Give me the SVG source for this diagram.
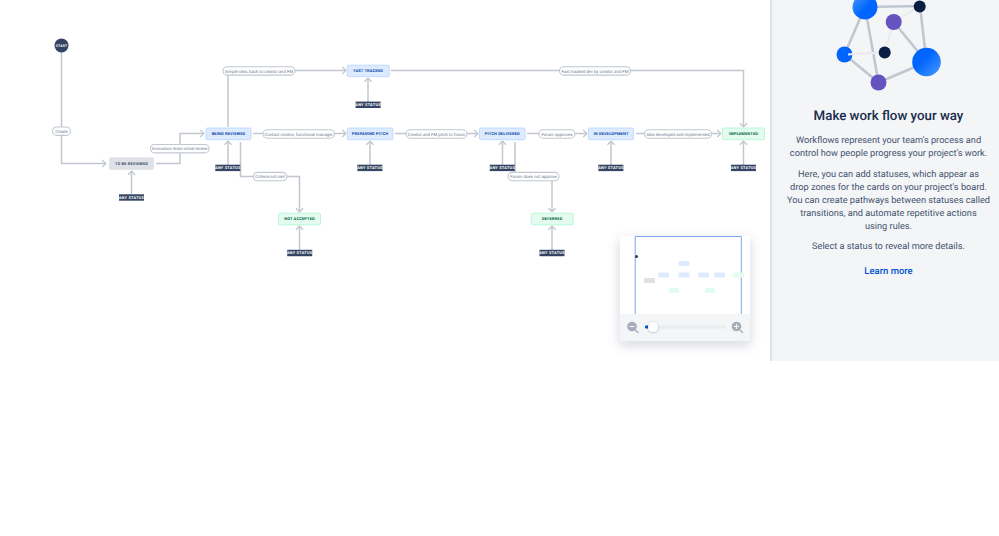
<svg xmlns="http://www.w3.org/2000/svg" width="999" height="536" viewBox="0 0 999 536">
<style>
text{font-family:Roboto,"Liberation Sans",sans-serif;text-rendering:geometricPrecision}
.c{fill:none;stroke:#c1c7d0;stroke-width:1.5}
.a{marker-end:url(#ah)}
.p{fill:#fff;stroke:#c1c7d0;stroke-width:1.1}
.pt{font-size:4.3px;fill:#6b778c;text-anchor:middle}
.n{stroke-width:.8}
.nt{font-size:4px;font-weight:700;text-anchor:middle;letter-spacing:.14px}
.b .n{fill:#deebff;stroke:#b3d4ff}.b .nt{fill:#0747a6}
.g .n{fill:#e3fcef;stroke:#abf5d1}.g .nt{fill:#006644}
.y .n{fill:#dfe1e6;stroke:#dfe1e6}.y .nt{fill:#42526e}
.s{fill:#344563}
.st{font-size:3.9px;font-weight:700;fill:#fff;text-anchor:middle;letter-spacing:.25px}
.body{font-size:9.2px;fill:#42526e;text-anchor:middle}
.e{stroke:#c1c7d0;stroke-width:2.6;stroke-linecap:round}
.m{stroke-width:0}
</style>
<defs>
<marker id="ah" markerUnits="userSpaceOnUse" markerWidth="10" markerHeight="10" refX="6.4" refY="5" orient="auto"><path d="M2.6 1.4L6.2 5L2.6 8.6" fill="none" stroke="#c1c7d0" stroke-width="1.3"/></marker>
<linearGradient id="bg" x1="0" y1="0" x2="1" y2="1"><stop offset="0" stop-color="#4c9aff"/><stop offset=".55" stop-color="#0065ff"/></linearGradient>
<linearGradient id="bg2" x1="1" y1="1" x2="0" y2="0"><stop offset="0" stop-color="#4c9aff"/><stop offset=".6" stop-color="#0065ff"/></linearGradient>
<filter id="sh" x="-20%" y="-20%" width="140%" height="150%"><feDropShadow dx="0" dy="4" stdDeviation="6" flood-color="#091e42" flood-opacity=".18"/></filter>
<filter id="ts" x="-50%" y="-50%" width="200%" height="200%"><feDropShadow dx="0" dy=".5" stdDeviation=".8" flood-color="#091e42" flood-opacity=".3"/></filter>
<clipPath id="ic"><rect x="772" y="0" width="227" height="100"/></clipPath>
</defs>
<rect width="999" height="536" fill="#fff"/>
<g id="connectors">
<path class="c a" d="M61.5 52V163.5H106"/>
<path class="c a" d="M156 163.5H180V133.5H204"/>
<path class="c a" d="M228 127V70.5H346"/>
<path class="c a" d="M391 70.5H743.5V127"/>
<path class="c a" d="M253 133.5H346"/>
<path class="c a" d="M395 133.5H478"/>
<path class="c a" d="M527 133.5H587"/>
<path class="c a" d="M636 133.5H721"/>
<path class="c a" d="M240.5 142V176.5H299.5V212"/>
<path class="c a" d="M515 142V176.5H552V212"/>
<path class="c a" d="M131.5 194V171"/>
<path class="c a" d="M228 165V141"/>
<path class="c a" d="M368 102V78"/>
<path class="c a" d="M370 165V141"/>
<path class="c a" d="M502.5 165V141"/>
<path class="c a" d="M611 165V141"/>
<path class="c a" d="M743.5 165V141"/>
<path class="c a" d="M299.5 250V226"/>
<path class="c a" d="M552 250V226"/>
</g>
<g id="labels">
<g id="l-create"><rect class="p" x="52.5" y="127" width="18" height="8.4" rx="4.2"/><text class="pt" x="61.5" y="132.8">Create</text></g>
<g id="l-innovation"><rect class="p" x="150.5" y="144.5" width="58.5" height="8.4" rx="4.2"/><text class="pt" x="179.7" y="150.3">Innovation team initial review</text></g>
<g id="l-simple"><rect class="p" x="223" y="66.7" width="72" height="8.4" rx="4.2"/><text class="pt" x="259" y="72.5">Simple idea, back to creator and FM</text></g>
<g id="l-contact"><rect class="p" x="263" y="129.8" width="71.5" height="8.4" rx="4.2"/><text class="pt" x="298.7" y="135.6">Contact creator, functional manager</text></g>
<g id="l-criteria"><rect class="p" x="253.3" y="172.4" width="33.6" height="8.4" rx="4.2"/><text class="pt" x="270" y="178.2">Criteria not met</text></g>
<g id="l-creator"><rect class="p" x="406" y="129.8" width="61" height="8.4" rx="4.2"/><text class="pt" x="436.5" y="135.6">Creator and FM pitch to forum</text></g>
<g id="l-approves"><rect class="p" x="539" y="129.8" width="36" height="8.4" rx="4.2"/><text class="pt" x="557" y="135.6">Forum approves</text></g>
<g id="l-notapprove"><rect class="p" x="508" y="172.4" width="51" height="8.4" rx="4.2"/><text class="pt" x="533.5" y="178.2">Forum does not approve</text></g>
<g id="l-idea"><rect class="p" x="644.5" y="129.8" width="67" height="8.4" rx="4.2"/><text class="pt" x="678" y="135.6">Idea developed and implemented</text></g>
<g id="l-fastdev"><rect class="p" x="559.5" y="66.7" width="71" height="8.4" rx="4.2"/><text class="pt" x="595" y="72.5">Fast tracked dev by creator and FM</text></g>
</g>
<g id="start"><circle cx="61.5" cy="45.5" r="7" fill="#344563"/><text class="st" x="61.5" y="47" style="font-size:3.4px">START</text></g>
<g id="to-be-reviewed" class="y"><rect class="n" x="109.5" y="157.7" width="44" height="11.7" rx="1.5"/><text class="nt" x="131.5" y="165">TO BE REVIEWED</text></g>
<g id="being-reviewed" class="b"><rect class="n" x="206" y="128" width="45" height="11.7" rx="1.5"/><text class="nt" x="228.5" y="135">BEING REVIEWED</text></g>
<g id="fast-tracked" class="b"><rect class="n" x="347.3" y="65.2" width="42" height="11.4" rx="1.5"/><text class="nt" x="368.3" y="72">FAST TRACKED</text></g>
<g id="preparing-pitch" class="b"><rect class="n" x="347.3" y="128" width="45.6" height="11.7" rx="1.5"/><text class="nt" x="370" y="135">PREPARING PITCH</text></g>
<g id="pitch-delivered" class="b"><rect class="n" x="479.5" y="128" width="45.6" height="11.7" rx="1.5"/><text class="nt" x="502.3" y="135">PITCH DELIVERED</text></g>
<g id="in-development" class="b"><rect class="n" x="588.5" y="128" width="45" height="11.7" rx="1.5"/><text class="nt" x="611" y="135">IN DEVELOPMENT</text></g>
<g id="implemented" class="g"><rect class="n" x="722.5" y="128" width="42" height="11.7" rx="1.5"/><text class="nt" x="743.5" y="135">IMPLEMENTED</text></g>
<g id="not-accepted" class="g"><rect class="n" x="278.5" y="213.2" width="42" height="11.7" rx="1.5"/><text class="nt" x="299.5" y="220.2">NOT ACCEPTED</text></g>
<g id="deferred" class="g"><rect class="n" x="531.2" y="213.2" width="42" height="11.7" rx="1.5"/><text class="nt" x="552.2" y="220.2">DEFERRED</text></g>
<g id="any-1"><rect class="s" x="119" y="194.3" width="25" height="6.4"/><text class="st" x="131.5" y="198.9">ANY STATUS</text></g>
<g id="any-2"><rect class="s" x="215.3" y="164.7" width="25" height="6.4"/><text class="st" x="227.8" y="169.3">ANY STATUS</text></g>
<g id="any-3"><rect class="s" x="355.6" y="101.6" width="25" height="6.4"/><text class="st" x="368.1" y="106.2">ANY STATUS</text></g>
<g id="any-4"><rect class="s" x="357.4" y="164.7" width="25" height="6.4"/><text class="st" x="369.9" y="169.3">ANY STATUS</text></g>
<g id="any-5"><rect class="s" x="489.8" y="164.7" width="25" height="6.4"/><text class="st" x="502.3" y="169.3">ANY STATUS</text></g>
<g id="any-6"><rect class="s" x="598.4" y="164.7" width="25" height="6.4"/><text class="st" x="610.9" y="169.3">ANY STATUS</text></g>
<g id="any-7"><rect class="s" x="731" y="164.7" width="25" height="6.4"/><text class="st" x="743.5" y="169.3">ANY STATUS</text></g>
<g id="any-8"><rect class="s" x="287.2" y="249.8" width="25" height="6.4"/><text class="st" x="299.7" y="254.4">ANY STATUS</text></g>
<g id="any-9"><rect class="s" x="539.5" y="249.8" width="25" height="6.4"/><text class="st" x="552" y="254.4">ANY STATUS</text></g>
<g id="minimap">
<rect x="620" y="236" width="130" height="105" rx="2" fill="#fff" filter="url(#sh)"/>
<path d="M620 314H750V339a2 2 0 0 1-2 2H622a2 2 0 0 1-2-2Z" fill="#f4f5f7"/>
<path d="M635.2 314V236.5H741.3V314" fill="none" stroke="#7fa6e8" stroke-width="1"/>
<circle cx="636.5" cy="256.5" r="1.6" fill="#344563"/>
<rect class="m" x="644" y="278" width="11" height="5" rx="1" fill="#dfe1e6"/>
<rect class="m" x="658" y="272.5" width="11" height="5" rx="1" fill="#deebff"/>
<rect class="m" x="678.5" y="261" width="11" height="5" rx="1" fill="#deebff"/>
<rect class="m" x="678.5" y="272.5" width="11" height="5" rx="1" fill="#deebff"/>
<rect class="m" x="698" y="272.5" width="11" height="5" rx="1" fill="#deebff"/>
<rect class="m" x="714" y="272.5" width="11" height="5" rx="1" fill="#deebff"/>
<rect class="m" x="733" y="272.5" width="11" height="5" rx="1" fill="#e3fcef"/>
<rect class="m" x="669" y="288" width="10" height="5" rx="1" fill="#e3fcef"/>
<rect class="m" x="705" y="288" width="10" height="5" rx="1" fill="#e3fcef"/>
<rect x="645" y="325.5" width="81" height="3" rx="1.5" fill="#ebecf0"/>
<rect x="645" y="325.5" width="4" height="3" rx="1" fill="#0052cc"/>
<circle cx="653" cy="327" r="5" fill="#fff" filter="url(#ts)"/>
<circle cx="632" cy="326.5" r="4.8" fill="#a5adba"/><path d="M629.5 326.5h5" stroke="#f4f5f7" stroke-width="1.1"/><path d="M635.5 330l3 3" stroke="#a5adba" stroke-width="1.2"/>
<circle cx="736.5" cy="326.5" r="4.8" fill="#a5adba"/><path d="M734 326.5h5M736.5 324v5" stroke="#f4f5f7" stroke-width="1.1"/><path d="M740 330l3 3" stroke="#a5adba" stroke-width="1.2"/>
</g>
<g id="panel">
<rect x="770" y="0" width="229" height="361" fill="#f4f5f7"/>
<rect x="770" y="0" width="2" height="361" fill="#dfe1e6"/>
<g clip-path="url(#ic)">
<path class="e" d="M865 7L920 6M920 6L926.5 62M865 7L844.5 54.5M865 7L878.5 82.5M844.5 54.5L878.5 82.5M878.5 82.5L926.5 62M893.7 22L926.5 62"/>
<path d="M844.5 54.5L884.7 52.5M884.7 52.5L893.7 22M893.7 22L920 6" stroke="#ebecf0" stroke-width="2.6" stroke-linecap="round"/>
<circle cx="865" cy="7" r="12.5" fill="url(#bg)"/>
<circle cx="919.7" cy="6.5" r="6" fill="#091e42"/>
<circle cx="893.7" cy="22" r="8" fill="#6554c0"/>
<circle cx="884.7" cy="52.5" r="6" fill="#091e42"/>
<circle cx="844.5" cy="54.5" r="8" fill="#0065ff"/>
<circle cx="926.5" cy="62" r="14.3" fill="url(#bg2)"/>
<circle cx="878.5" cy="82.5" r="8" fill="#6554c0"/>
<path d="M848 54.4L854 54.1" stroke="#ebecf0" stroke-width="2"/>
</g>
<text x="888.5" y="120" text-anchor="middle" font-size="13.3" font-weight="500" fill="#172b4d">Make work flow your way</text>
<text class="body" x="888.5" y="143">Workflows represent your team's process and</text>
<text class="body" x="888.5" y="156">control how people progress your project's work.</text>
<text class="body" x="888.5" y="177">Here, you can add statuses, which appear as</text>
<text class="body" x="888.5" y="190">drop zones for the cards on your project's board.</text>
<text class="body" x="888.5" y="203">You can create pathways between statuses called</text>
<text class="body" x="888.5" y="216">transitions, and automate repetitive actions</text>
<text class="body" x="888.5" y="229">using rules.</text>
<text class="body" x="888.5" y="249">Select a status to reveal more details.</text>
<text x="888.5" y="274" text-anchor="middle" font-size="9.5" font-weight="500" fill="#0052cc">Learn more</text>
</g>
</svg>
